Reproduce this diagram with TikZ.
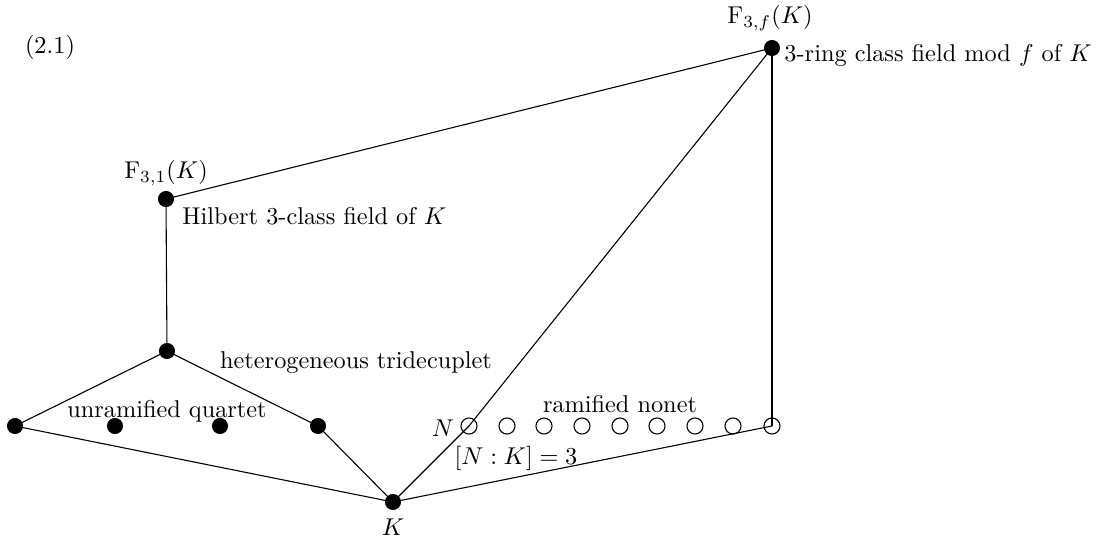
\documentclass[tikz,border=0pt]{standalone}
\begin{document}
\begin{tikzpicture}[x=0.4115pt,y=-0.4115pt,
  fdot/.style={circle,fill=black,draw=black,inner sep=0pt,minimum size=6.2pt},
  odot/.style={circle,draw=black,line width=0.45pt,inner sep=0pt,minimum size=6.6pt},
  edge/.style={line width=0.45pt},
  lbl/.style={inner sep=0pt}]
\useasboundingbox (0,0) rectangle (1102,537);
% nodes
\node[fdot] (Ff) at (772,48) {};
\node[fdot] (F1) at (166,199) {};
\node[fdot] (T) at (167,351) {};
\node[fdot] (q1) at (15,426) {};
\node[fdot] (q2) at (115,426) {};
\node[fdot] (q3) at (220,426) {};
\node[fdot] (q4) at (318,426) {};
\node[fdot] (K) at (393,502) {};
\foreach \i/\x in {1/469,2/507,3/544,4/582,5/620,6/657,7/695,8/733,9/772}
  \node[odot] (n\i) at (\x,426) {};
% edges
\draw[edge] (F1.center) -- (Ff.center);
\draw[edge] (F1.center) -- (T.center);
\draw[edge] (T.center) -- (q1.center);
\draw[edge] (T.center) -- (q4.center);
\draw[edge] (q1.center) -- (K.center);
\draw[edge] (q4.center) -- (K.center);
\draw[edge] (K.center) -- (n1.center) -- (Ff.center);
\draw[edge] (K.center) -- (n9.center);
\draw[edge] (n9.center) -- (Ff.center);
% labels
\node[lbl] (eq) at (50,47) {(2.1)};
\node[lbl] (lFf) at (770,18) {$\mathrm{F}_{3,f}(K)$};
\node[lbl,anchor=west] (lFfd) at (784,55) {3-ring class field mod $f$ of $K$};
\node[lbl] (lF1) at (166,173) {$\mathrm{F}_{3,1}(K)$};
\node[lbl,anchor=west] (lF1d) at (182,216) {Hilbert 3-class field of $K$};
\node[lbl] (lT) at (356,363) {heterogeneous tridecuplet};
\node[lbl] (lq) at (167,411) {unramified quartet};
\node[lbl] (ln) at (620,404) {ramified nonet};
\node[lbl] (lN) at (443,428) {$N$};
\node[lbl] (lNK) at (516,458) {$[N:K]=3$};
\node[lbl] (lK) at (393,527) {$K$};
\end{tikzpicture}
\end{document}
